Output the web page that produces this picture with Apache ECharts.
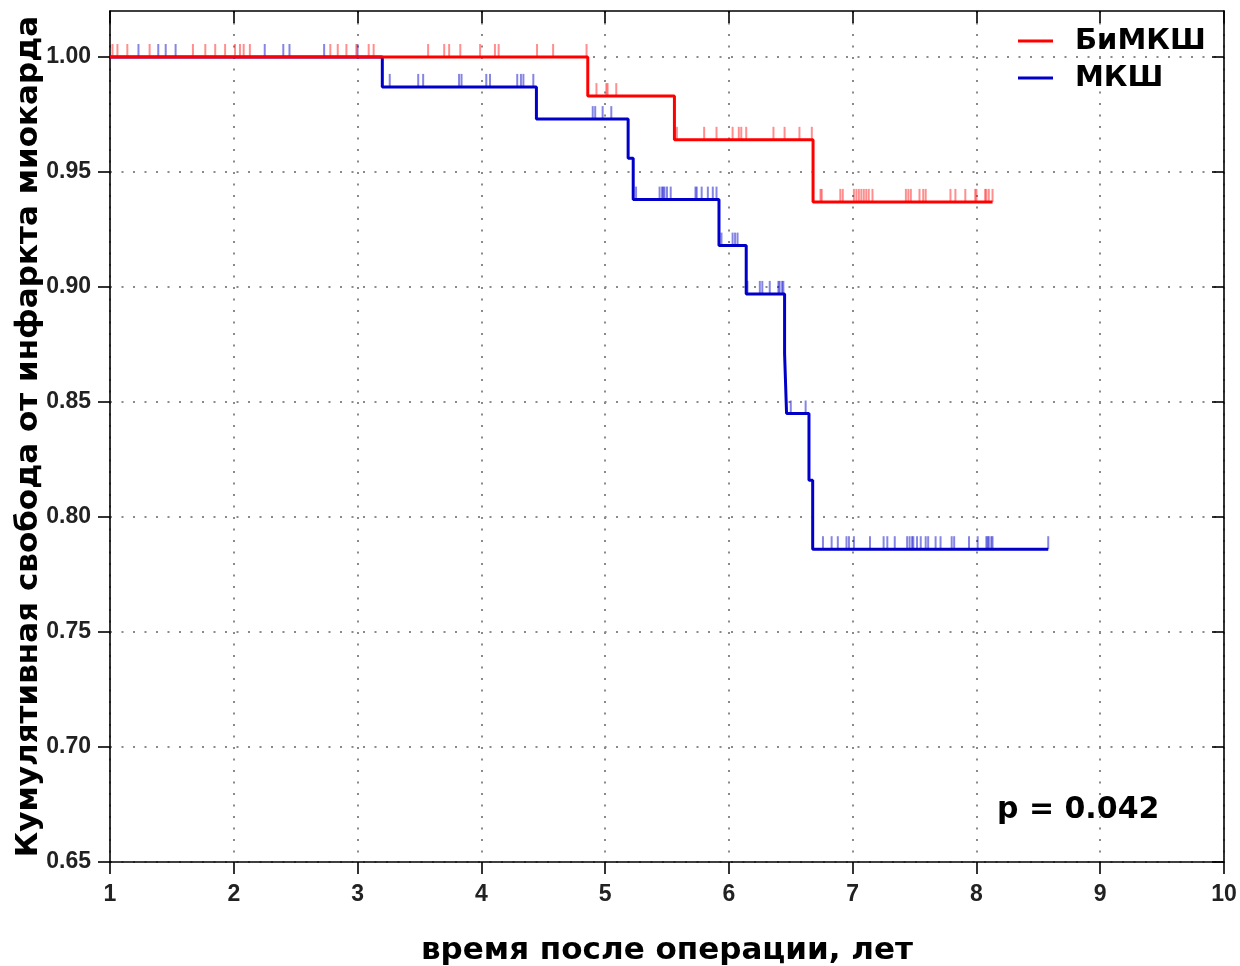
<!DOCTYPE html>
<html>
<head>
<meta charset="utf-8">
<script src="https://cdn.jsdelivr.net/npm/echarts@6/dist/echarts.min.js"></script>
<style>
  html, body { margin: 0; padding: 0; background: #fff; }
  #chart { width: 1240px; height: 966px; }
</style>
</head>
<body>
<div id="chart"></div>
<script>
// Kaplan–Meier curves: step times (years) and survival after each step
const biTimes   = [1.00, 4.86, 5.56, 6.68, 8.13];
const biSurv    = [1.000, 0.983, 0.964, 0.937, 0.937];
const monoTimes = [1.00, 3.20, 4.445, 5.186, 5.227, 5.92, 6.14, 6.45, 6.466, 6.647, 6.677, 8.58];
const monoSurv  = [1.000, 0.987, 0.973, 0.956, 0.938, 0.918, 0.897, 0.871, 0.845, 0.816, 0.786, 0.786];

// censored observations (years)
const biCensored = [
  1.02, 1.06, 1.14, 1.32, 1.67, 1.77, 1.85, 1.93, 2.01, 2.05, 2.08, 2.13,
  2.78, 2.84, 2.91, 2.99, 3.09, 3.13, 3.57, 3.70, 3.74, 3.83, 3.99, 4.11,
  4.14, 4.45, 4.58, 4.85,
  4.93, 5.01, 5.02, 5.09,
  5.58, 5.80, 5.90, 6.03, 6.08, 6.10, 6.14, 6.36, 6.45, 6.57, 6.67,
  6.74, 6.75, 6.90, 6.92, 7.01, 7.03, 7.05, 7.07, 7.09, 7.11, 7.13, 7.16,
  7.43, 7.45, 7.47, 7.54, 7.57, 7.59, 7.79, 7.83, 7.91, 7.99, 8.00, 8.07,
  8.08, 8.10, 8.13
];
const monoCensored = [
  1.23, 1.39, 1.45, 1.53, 2.25, 2.40, 2.45, 2.73, 3.00,
  3.26, 3.49, 3.53, 3.82, 3.84, 4.04, 4.07, 4.29, 4.32, 4.34, 4.42,
  4.90, 4.92, 4.98, 5.05,
  5.25, 5.44, 5.46, 5.47, 5.48, 5.50, 5.53, 5.73, 5.74, 5.78, 5.83, 5.87, 5.90,
  5.94, 6.03, 6.05, 6.07,
  6.15, 6.25, 6.27, 6.33, 6.40, 6.41, 6.43, 6.44,
  6.50, 6.62,
  6.76, 6.83, 6.88, 6.95, 6.97, 7.01, 7.14, 7.25, 7.28, 7.34, 7.44, 7.46,
  7.48, 7.49, 7.52, 7.55, 7.59, 7.61, 7.67, 7.71, 7.80, 7.82, 7.94, 8.01,
  8.08, 8.09, 8.10, 8.12, 8.13, 8.58
];

const seriesNames = ['БиМКШ', 'МКШ'];
const xTicks = [1, 2, 3, 4, 5, 6, 7, 8, 9, 10];
const yTicks = [0.65, 0.70, 0.75, 0.80, 0.85, 0.90, 0.95, 1.00];
const pValueText = 'p = 0.042';
const xTitle = 'время после операции, лет';
const yTitle = 'Кумулятивная свобода от инфаркта миокарда';

// survival value of a step curve at time t
function survivalAt(times, surv, t) {
  let s = surv[0];
  for (let i = 0; i < times.length; i++) {
    if (times[i] <= t + 1e-9) s = surv[i];
  }
  return s;
}
const toPairs = (xs, ys) => xs.map((x, i) => [x, ys[i]]);
const censorPoints = (cens, times, surv) => cens.map(t => [t, survivalAt(times, surv, t)]);

const RED = '#ff0000';
const BLUE = '#0000c8';
const LABEL_FONT = 'Liberation Sans, Arial, sans-serif';
const HEAVY_FONT = 'DejaVu Sans, Liberation Sans, sans-serif';

const dotted = { color: '#8a8a8a', width: 2, type: [2, 9.5] };

const chart = echarts.init(document.getElementById('chart'), null, { renderer: 'canvas' });

chart.setOption({
  backgroundColor: '#ffffff',
  animation: false,
  grid: { left: 110, top: 11, right: 16, bottom: 104, containLabel: false, outerBoundsMode: 'none' },
  legend: {
    data: seriesNames,
    orient: 'vertical',
    left: 1018,
    top: 26,
    padding: 0,
    itemGap: 7,
    itemWidth: 35,
    itemHeight: 3,
    icon: 'rect',
    textStyle: {
      fontFamily: HEAVY_FONT, fontWeight: 'bold', fontSize: 29,
      color: '#000', lineHeight: 30, padding: [0, 0, 0, 17]
    }
  },
  xAxis: [
    {
      type: 'value', position: 'bottom',
      min: xTicks[0], max: xTicks[xTicks.length - 1], interval: 1,
      name: xTitle, nameLocation: 'middle', nameGap: 73,
      nameTextStyle: { fontFamily: HEAVY_FONT, fontWeight: 'bold', fontSize: 31, color: '#000' },
      axisLine: { show: true, onZero: false, lineStyle: { color: '#000', width: 1.6 } },
      axisTick: { show: true, inside: false, length: 12, lineStyle: { color: '#000', width: 1.6 } },
      axisLabel: {
        margin: 21, fontFamily: LABEL_FONT, fontWeight: 'bold', fontSize: 23, color: '#222',
        formatter: v => String(v)
      },
      splitLine: { show: true, lineStyle: dotted }
    },
    {
      type: 'value', position: 'top',
      min: xTicks[0], max: xTicks[xTicks.length - 1], interval: 1,
      axisLine: { show: true, onZero: false, lineStyle: { color: '#000', width: 1.6 } },
      axisTick: { show: true, inside: true, length: 12, lineStyle: { color: '#000', width: 1.6 } },
      axisLabel: { show: false },
      splitLine: { show: false }
    }
  ],
  yAxis: [
    {
      type: 'value', position: 'left',
      min: yTicks[0], max: 1.02, interval: 0.05,
      name: yTitle, nameLocation: 'middle', nameGap: 66, nameRotate: 90,
      nameMoveOverlap: false,
      nameTextStyle: { fontFamily: HEAVY_FONT, fontWeight: 'bold', fontSize: 31, color: '#000' },
      axisLine: { show: true, onZero: false, lineStyle: { color: '#000', width: 1.6 } },
      axisTick: { show: true, inside: false, length: 12, customValues: yTicks, lineStyle: { color: '#000', width: 1.6 } },
      axisLabel: {
        margin: 19, fontFamily: LABEL_FONT, fontWeight: 'bold', fontSize: 23, color: '#222',
        customValues: yTicks,
        formatter: v => (yTicks.some(t => Math.abs(t - v) < 1e-6) ? v.toFixed(2) : '')
      },
      splitLine: { show: true, lineStyle: dotted }
    },
    {
      type: 'value', position: 'right',
      min: yTicks[0], max: 1.02, interval: 0.05,
      axisLine: { show: true, onZero: false, lineStyle: { color: '#000', width: 1.6 } },
      axisTick: { show: true, inside: true, length: 12, customValues: yTicks, lineStyle: { color: '#000', width: 1.6 } },
      axisLabel: { show: false },
      splitLine: { show: false }
    }
  ],
  graphic: [
    {
      type: 'text', left: 997, top: 795, z: 100,
      style: {
        text: pValueText, fontFamily: HEAVY_FONT, fontWeight: 'bold', fontSize: 30, fill: '#000'
      }
    }
  ],
  series: [
    {
      name: seriesNames[1], type: 'line', step: 'end', showSymbol: false,
      data: toPairs(monoTimes, monoSurv), z: 3,
      lineStyle: { color: BLUE, width: 3 }, itemStyle: { color: BLUE }
    },
    {
      name: seriesNames[1] + ' цензурированные', type: 'scatter',
      data: censorPoints(monoCensored, monoTimes, monoSurv), z: 4,
      symbol: 'rect', symbolSize: [2, 13], symbolOffset: [0, -6.5],
      itemStyle: { color: 'rgba(0, 0, 200, 0.6)' }, silent: true
    },
    {
      name: seriesNames[0], type: 'line', step: 'end', showSymbol: false,
      data: toPairs(biTimes, biSurv), z: 5,
      lineStyle: { color: RED, width: 3 }, itemStyle: { color: RED }
    },
    {
      name: seriesNames[0] + ' цензурированные', type: 'scatter',
      data: censorPoints(biCensored, biTimes, biSurv), z: 6,
      symbol: 'rect', symbolSize: [2, 13], symbolOffset: [0, -6.5],
      itemStyle: { color: 'rgba(255, 0, 0, 0.55)' }, silent: true
    }
  ]
});
</script>
</body>
</html>
